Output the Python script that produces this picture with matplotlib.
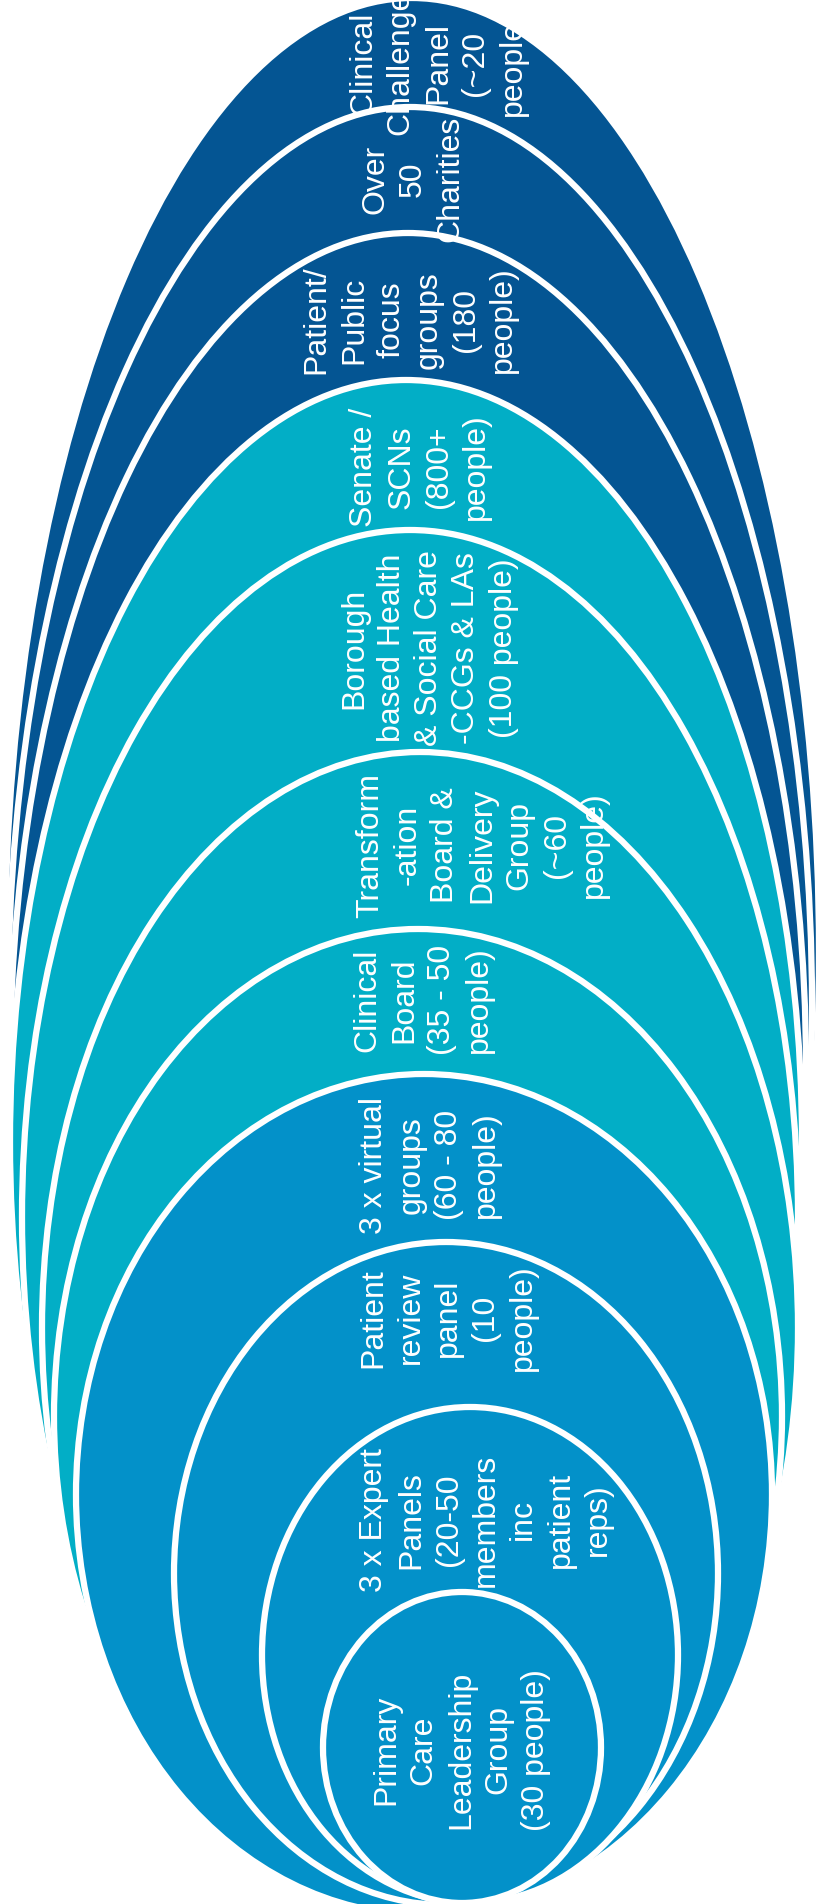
import matplotlib
matplotlib.use("Agg")
import matplotlib.pyplot as plt
from matplotlib.patches import Ellipse

plt.rcParams['font.family'] = ['Liberation Sans', 'DejaVu Sans']

# groups, from the innermost ring outwards
labels = [
    "Primary\nCare\nLeadership\nGroup\n(30 people)",
    "3 x Expert\nPanels\n(20-50\nmembers\ninc\npatient\nreps)",
    "Patient\nreview\npanel\n(10\npeople)",
    "3 x virtual\ngroups\n(60 - 80\npeople)",
    "Clinical\nBoard\n(35 - 50\npeople)",
    "Transform\n-ation\nBoard &\nDelivery\nGroup\n(~60\npeople)",
    "Borough\nbased Health\n& Social Care\n-CCGs & LAs\n(100 people)",
    "Senate /\nSCNs\n(800+\npeople)",
    "Patient/\nPublic\nfocus\ngroups\n(180\npeople)",
    "Over\n50\nCharities",
    "Clinical\nChallenge\nPanel\n(~20\npeople)",
]
tier = [0, 0, 0, 0, 1, 1, 1, 1, 2, 2, 2]
tier_colors = ['#0391C9', '#02AEC6', '#045593']

# ellipse layout in pixels: centre x, top, bottom, half width
ell_cx = [462, 470, 446, 424, 418, 420, 410, 406, 408, 410, 412]
ell_top = [1592, 1407, 1242, 1074, 929, 752, 530, 380, 233, 107, -2]
ell_bot = [1903, 1903, 1905, 1915, 1904, 1904, 1904, 1904, 1904, 1904, 1906]
ell_hw = [139, 208, 272, 348, 364, 378, 388, 396, 398, 402, 407]

# label centres in pixels
lab_x = [461, 486, 448, 430, 423, 482, 429, 420, 410, 413, 438]
lab_y = [1750, 1520, 1318, 1165, 1000, 845, 648, 467, 320, 179, 63]

W, H = 816, 1904
fig = plt.figure(figsize=(W / 100, H / 100), dpi=100)
ax = fig.add_axes([0, 0, 1, 1])
ax.set_xlim(0, W)
ax.set_ylim(H, 0)
ax.axis('off')

for i in range(len(labels) - 1, -1, -1):
    cy = (ell_top[i] + ell_bot[i]) / 2
    h = ell_bot[i] - ell_top[i]
    e = Ellipse((ell_cx[i], cy), 2 * ell_hw[i], h,
                facecolor=tier_colors[tier[i]], edgecolor='white',
                linewidth=4.5, zorder=len(labels) - i)
    ax.add_patch(e)

for i, lab in enumerate(labels):
    ax.text(lab_x[i], lab_y[i], lab, rotation=90, color='white',
            fontsize=23, ha='center', va='center', multialignment='center',
            linespacing=1.32, zorder=50)

fig.savefig('out.png', dpi=100)
